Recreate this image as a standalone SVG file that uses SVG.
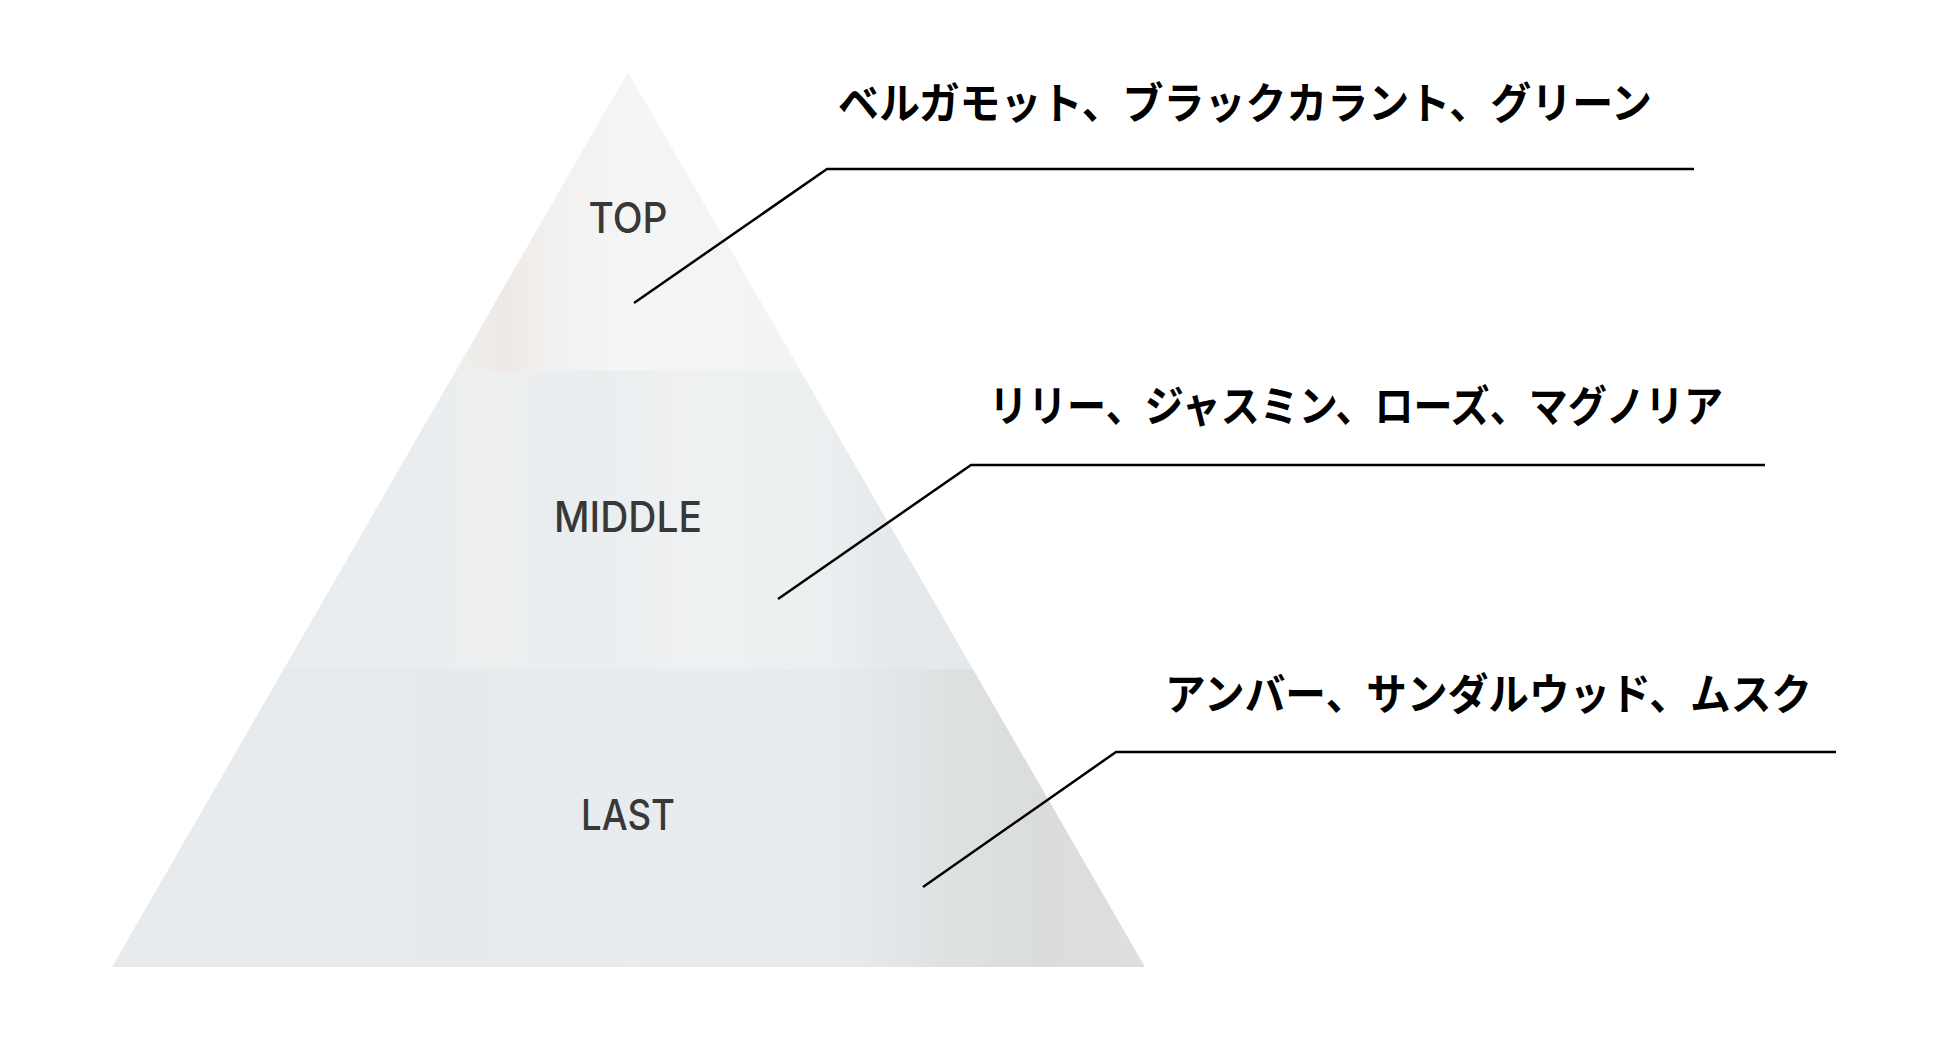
<svg xmlns="http://www.w3.org/2000/svg" width="1950" height="1041" viewBox="0 0 1950 1041">
  <style>
    .lbl { font-family: Inter, "Liberation Sans", Arial, sans-serif; font-size: 42px; font-weight: 500; fill: #383838; text-anchor: middle; }
    .note { font-family: "Noto Sans CJK JP", "Noto Sans", sans-serif; font-size: 43px; font-weight: 700; fill: #000; }
    .conn { fill: none; stroke: #000; stroke-width: 2.5; stroke-linejoin: miter; }
  </style>
  <defs>
    <clipPath id="tri">
      <polygon points="628,72 1145,967 112,967"/>
    </clipPath>
    <linearGradient id="gTop" x1="112" y1="0" x2="1145" y2="0" gradientUnits="userSpaceOnUse">
      <stop offset="0" stop-color="#efefee"/>
      <stop offset="0.34" stop-color="#efeeec"/>
      <stop offset="0.38" stop-color="#eee9e6"/>
      <stop offset="0.42" stop-color="#f2f0ef"/>
      <stop offset="0.5" stop-color="#f5f5f5"/>
      <stop offset="0.68" stop-color="#f3f3f3"/>
      <stop offset="0.72" stop-color="#eeeeee"/>
      <stop offset="1" stop-color="#ececec"/>
    </linearGradient>
    <linearGradient id="gMid" x1="112" y1="0" x2="1145" y2="0" gradientUnits="userSpaceOnUse">
      <stop offset="0" stop-color="#e8ecee"/>
      <stop offset="0.3" stop-color="#e9edef"/>
      <stop offset="0.37" stop-color="#eeefef"/>
      <stop offset="0.43" stop-color="#e9edef"/>
      <stop offset="0.55" stop-color="#eef0f1"/>
      <stop offset="0.68" stop-color="#edf0f1"/>
      <stop offset="0.75" stop-color="#e6e9eb"/>
      <stop offset="1" stop-color="#e3e6e8"/>
    </linearGradient>
    <linearGradient id="gLast" x1="112" y1="0" x2="1145" y2="0" gradientUnits="userSpaceOnUse">
      <stop offset="0" stop-color="#e7ebed"/>
      <stop offset="0.35" stop-color="#e6eaec"/>
      <stop offset="0.5" stop-color="#e8ecee"/>
      <stop offset="0.72" stop-color="#e6eaec"/>
      <stop offset="0.8" stop-color="#dfe2e3"/>
      <stop offset="0.9" stop-color="#dadcdd"/>
      <stop offset="1" stop-color="#dedfdf"/>
    </linearGradient>
  </defs>
  <rect width="1950" height="1041" fill="#ffffff"/>

  <g id="pyramid" clip-path="url(#tri)">
    <rect x="100" y="60" width="1060" height="311" fill="url(#gTop)"/>
    <rect x="100" y="371" width="1060" height="298" fill="url(#gMid)"/>
    <rect x="100" y="669" width="1060" height="300" fill="url(#gLast)"/>
  </g>

  <g id="node-top">
    <text class="lbl" x="628" y="233" textLength="79" lengthAdjust="spacingAndGlyphs">TOP</text>
  </g>
  <g id="node-middle">
    <text class="lbl" x="628" y="532" textLength="148" lengthAdjust="spacingAndGlyphs">MIDDLE</text>
  </g>
  <g id="node-last">
    <text class="lbl" x="628" y="830" textLength="94" lengthAdjust="spacingAndGlyphs">LAST</text>
  </g>

  <g id="note-top">
    <text class="note" x="838" y="119" textLength="814" lengthAdjust="spacingAndGlyphs">ベルガモット、ブラックカラント、グリーン</text>
  </g>
  <g id="note-middle">
    <text class="note" x="989" y="422" textLength="734" lengthAdjust="spacingAndGlyphs">リリー、ジャスミン、ローズ、マグノリア</text>
  </g>
  <g id="note-last">
    <text class="note" x="1165" y="710" textLength="647" lengthAdjust="spacingAndGlyphs">アンバー、サンダルウッド、ムスク</text>
  </g>

  <g id="connectors">
    <polyline class="conn" points="634,303 827,169 1694,169"/>
    <polyline class="conn" points="778,599 971,465 1765,465"/>
    <polyline class="conn" points="923,887 1116,752 1836,752"/>
  </g>
</svg>
